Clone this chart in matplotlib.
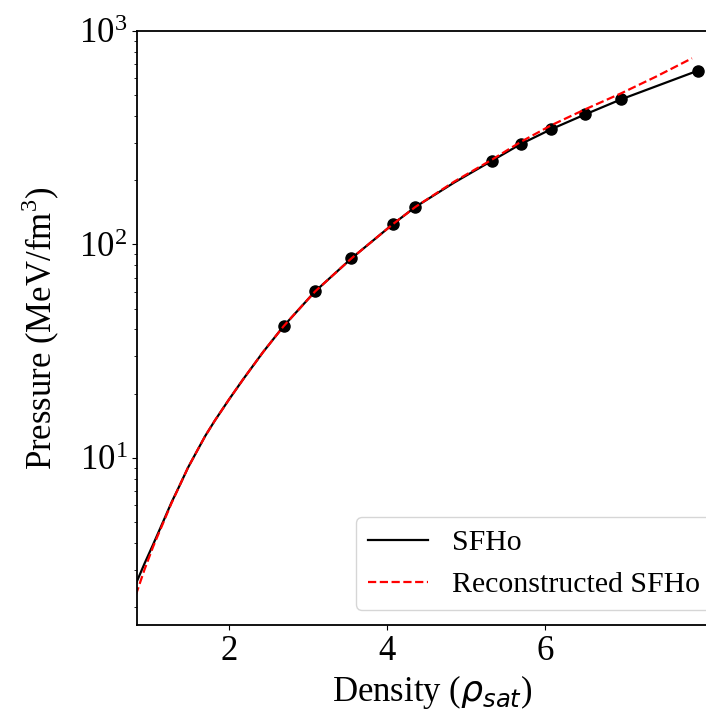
import matplotlib
matplotlib.use("Agg")
import matplotlib.pyplot as plt

# SFHo equation of state (density in units of saturation density, pressure in MeV/fm^3)
dens_sfho = [0.82, 0.93, 1.04, 1.17, 1.27, 1.38, 1.48, 1.59, 1.70, 1.82, 2.00, 2.18,
             2.43, 2.69, 3.09, 3.55, 4.08, 4.36, 4.85, 5.33, 5.69, 6.08, 6.51, 6.96, 7.94]
p_sfho = [2.57, 3.2, 3.94, 5.07, 6.17, 7.5, 9.0, 10.7, 12.7, 14.96, 18.8, 23.4,
          31.3, 41.4, 60.3, 86.1, 125, 150, 195, 247, 295, 347, 407, 478, 653]

# sampled points along SFHo
dens_pts = [2.69, 3.09, 3.55, 4.08, 4.36, 5.33, 5.69, 6.08, 6.51, 6.96, 7.94]
p_pts = [41.4, 60.3, 86.1, 125, 150, 247, 295, 347, 407, 478, 653]

# reconstructed SFHo
dens_rec = [0.82, 0.93, 1.04, 1.17, 1.27, 1.38, 1.48, 1.59, 1.70, 1.82, 2.00, 2.18,
            2.43, 2.69, 3.09, 3.55, 4.08, 4.36, 4.85, 5.33, 5.69, 6.08, 6.51, 6.96,
            7.40, 7.86]
p_rec = [2.28, 3.0, 3.85, 5.0, 6.12, 7.5, 9.0, 10.7, 12.7, 14.96, 18.8, 23.4,
         31.3, 41.4, 60.3, 86.1, 125, 150, 197, 250, 302, 362, 430, 510, 610, 745]

xticks = [2, 4, 6]


def main():
    plt.rcParams["font.family"] = "serif"
    plt.rcParams["font.serif"] = ["Liberation Serif", "DejaVu Serif"]

    fig = plt.figure(figsize=(7.06, 7.21), dpi=100)
    xmin, xmax = 0.835, 8.3
    # axes runs past the right border of the canvas
    w = (xmax - xmin) * 79 / 706
    ax = fig.add_axes([137 / 706, 96 / 721, w, 594 / 721])

    ax.plot(dens_sfho, p_sfho, color="black", lw=1.6, label="SFHo")
    ax.plot(dens_pts, p_pts, "o", color="black", ms=8)
    ax.plot(dens_rec, p_rec, "--", color="red", lw=1.6, label="Reconstructed SFHo")

    ax.set_yscale("log")
    ax.set_xlim(xmin, xmax)
    ax.set_ylim(1.65, 1000)
    ax.set_xticks(xticks)

    ax.set_xlabel(r"Density ($\rho_{sat}$)", fontsize=25)
    ax.set_ylabel(r"Pressure (MeV/fm$^{\mathdefault{3}}$)", fontsize=25, labelpad=12)
    ax.tick_params(labelsize=25)
    for sp in ax.spines.values():
        sp.set_linewidth(1.3)

    ax.legend(loc="lower right", fontsize=21.5)

    fig.savefig("out.png", dpi=100)


if __name__ == "__main__":
    main()
